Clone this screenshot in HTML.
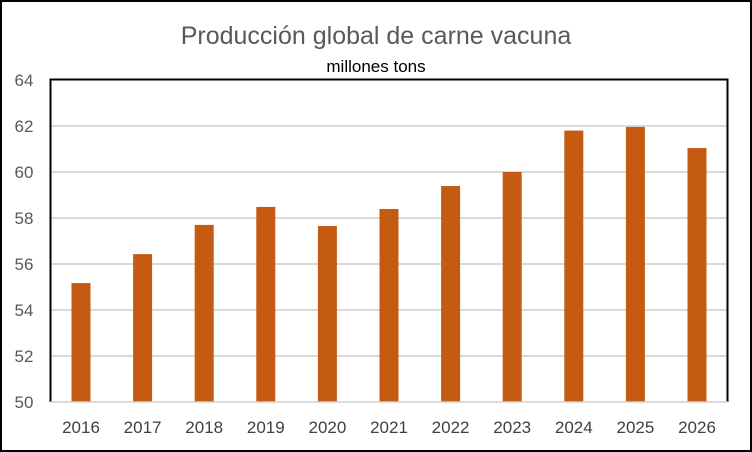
<!DOCTYPE html>
<html><head><meta charset="utf-8"><style>
body{margin:0;background:#fff;}
svg{display:block;font-family:"Liberation Sans",sans-serif;}
</style></head><body>
<svg id="c" width="752" height="452">
<rect x="1" y="1" width="750" height="450" fill="#fff" stroke="#000" stroke-width="2"/>
<text x="376" y="44" text-anchor="middle" font-size="25" fill="#595959">Producción global de carne vacuna</text>
<text x="376" y="72" text-anchor="middle" font-size="17" fill="#000">millones tons</text>
<g id="grid"></g><g id="bars"></g><g id="ylab"></g><g id="xlab"></g>
<path d="M50.5 402 V79.5 H727.5 V402" fill="none" stroke="#000" stroke-width="2"/>
<line x1="50" y1="402" x2="728" y2="402" stroke="#d0d0d0" stroke-width="1.5"/>
</svg>
<script>
const categories=["2016","2017","2018","2019","2020","2021","2022","2023","2024","2025","2026"];
const values=[55.17,56.43,57.7,58.48,57.65,58.39,59.39,60.0,61.8,61.96,61.04];
const yTicks=[50,52,54,56,58,60,62,64];
const NS="http://www.w3.org/2000/svg";
function y(v){return 402-(v-50)*23;}
function x(i){return 81+i*61.6;}
function mk(t,a,p){const e=document.createElementNS(NS,t);for(const k in a)e.setAttribute(k,a[k]);p.appendChild(e);return e;}
const g=document.getElementById('grid'),yl=document.getElementById('ylab'),b=document.getElementById('bars'),xl=document.getElementById('xlab');
yTicks.forEach(t=>{
 if(t>50&&t<64){const l=mk('line',{x1:51,x2:727,y1:y(t),y2:y(t),stroke:'#d9d9d9','stroke-width':2},g);
 
 }
 const tx=mk('text',{x:24,y:y(t)+6,'text-anchor':'middle','font-size':17,fill:'#595959'},yl);
 tx.textContent=t;
 
 
});
categories.forEach((c,i)=>{
 const r=mk('rect',{x:x(i)-9.5,y:y(values[i]),width:19,height:402-y(values[i]),fill:'#c55a11'},b);
 
 
 const t=mk('text',{x:x(i),y:433,'text-anchor':'middle','font-size':17,fill:'#404040'},xl);
 t.textContent=c;
 
 
});
</script>
</body></html>
